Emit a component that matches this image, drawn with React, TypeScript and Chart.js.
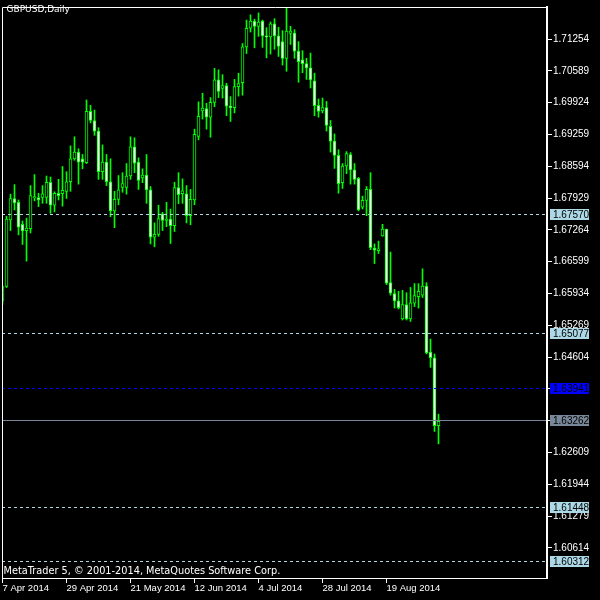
import React, { useEffect, useRef } from "react";
import { Chart, registerables } from "chart.js";

Chart.register(...registerables);

const symbolTitle = "GBPUSD,Daily";
const copyrightText = "MetaTrader 5, \u00a9 2001-2014, MetaQuotes Software Corp.";

const opens = [
  1.6579, 1.6608, 1.6747, 1.6792, 1.6784, 1.6738, 1.6725, 1.6729, 1.6793, 1.6794,
  1.6794, 1.6794, 1.6826, 1.6778, 1.6803, 1.6802, 1.6807, 1.6827, 1.6875, 1.6889,
  1.6875, 1.6867, 1.6974, 1.6955, 1.6933, 1.6848, 1.6868, 1.6827, 1.6766, 1.6790,
  1.6815, 1.6815, 1.6839, 1.6900, 1.6868, 1.6835, 1.6841, 1.6810, 1.6711, 1.6717,
  1.6760, 1.6746, 1.6749, 1.6735, 1.6815, 1.6802, 1.6802, 1.6756, 1.6789, 1.6922,
  1.6975, 1.6980, 1.6962, 1.6993, 1.7040, 1.7022, 1.7028, 1.6985, 1.6982, 1.7026,
  1.7034, 1.7109, 1.7148, 1.7163, 1.7152, 1.7163, 1.7132, 1.7130, 1.7157, 1.7132,
  1.7120, 1.7085, 1.7137, 1.7138, 1.7100, 1.7082, 1.7074, 1.7065, 1.7038, 1.6987,
  1.6975, 1.6982, 1.6943, 1.6912, 1.6882, 1.6825, 1.6860, 1.6884, 1.6852, 1.6834,
  1.6774, 1.6788, 1.6811, 1.6688, 1.6683, 1.6714, 1.6728, 1.6616, 1.6593, 1.6578,
  1.6540, 1.6570, 1.6540, 1.6573, 1.6587, 1.6590, 1.6609, 1.6471, 1.6459, 1.6317,
];
const highs = [
  1.6610, 1.6755, 1.6801, 1.6821, 1.6789, 1.6745, 1.6751, 1.6819, 1.6842, 1.6803,
  1.6819, 1.6839, 1.6837, 1.6806, 1.6832, 1.6859, 1.6848, 1.6902, 1.6921, 1.6896,
  1.6884, 1.6998, 1.6987, 1.6977, 1.6940, 1.6904, 1.6884, 1.6875, 1.6807, 1.6840,
  1.6846, 1.6865, 1.6921, 1.6919, 1.6877, 1.6854, 1.6884, 1.6817, 1.6741, 1.6778,
  1.6763, 1.6784, 1.6770, 1.6826, 1.6846, 1.6833, 1.6819, 1.6811, 1.6937, 1.6994,
  1.7012, 1.6991, 1.7003, 1.7064, 1.7061, 1.7051, 1.7033, 1.7005, 1.7041, 1.7054,
  1.7116, 1.7165, 1.7176, 1.7167, 1.7180, 1.7165, 1.7149, 1.7161, 1.7168, 1.7150,
  1.7143, 1.7190, 1.7152, 1.7145, 1.7120, 1.7101, 1.7085, 1.7096, 1.7054, 1.7000,
  1.7002, 1.6995, 1.6955, 1.6927, 1.6894, 1.6865, 1.6890, 1.6888, 1.6865, 1.6836,
  1.6797, 1.6817, 1.6846, 1.6697, 1.6703, 1.6738, 1.6728, 1.6680, 1.6602, 1.6598,
  1.6600, 1.6595, 1.6606, 1.6614, 1.6614, 1.6645, 1.6616, 1.6498, 1.6467, 1.6341,
];
const lows = [
  1.6571, 1.6606, 1.6725, 1.6768, 1.6716, 1.6696, 1.6661, 1.6720, 1.6787, 1.6775,
  1.6782, 1.6782, 1.6761, 1.6764, 1.6789, 1.6776, 1.6792, 1.6807, 1.6872, 1.6822,
  1.6854, 1.6865, 1.6950, 1.6924, 1.6832, 1.6832, 1.6819, 1.6754, 1.6731, 1.6779,
  1.6805, 1.6801, 1.6832, 1.6846, 1.6811, 1.6825, 1.6782, 1.6697, 1.6691, 1.6713,
  1.6725, 1.6733, 1.6698, 1.6723, 1.6781, 1.6782, 1.6741, 1.6737, 1.6779, 1.6915,
  1.6958, 1.6937, 1.6920, 1.6984, 1.7003, 1.7002, 1.6965, 1.6953, 1.6971, 1.7006,
  1.7008, 1.7095, 1.7140, 1.7107, 1.7131, 1.7108, 1.7086, 1.7094, 1.7104, 1.7089,
  1.7071, 1.7058, 1.7114, 1.7085, 1.7035, 1.7055, 1.7041, 1.7023, 1.6965, 1.6962,
  1.6971, 1.6933, 1.6889, 1.6855, 1.6803, 1.6813, 1.6844, 1.6822, 1.6822, 1.6766,
  1.6770, 1.6756, 1.6685, 1.6656, 1.6677, 1.6713, 1.6612, 1.6590, 1.6563, 1.6561,
  1.6538, 1.6538, 1.6535, 1.6566, 1.6563, 1.6585, 1.6467, 1.6439, 1.6305, 1.6279,
];
const closes = [
  1.6608, 1.6749, 1.6792, 1.6783, 1.6732, 1.6724, 1.6730, 1.6798, 1.6796, 1.6789,
  1.6802, 1.6826, 1.6778, 1.6803, 1.6798, 1.6809, 1.6827, 1.6875, 1.6889, 1.6868,
  1.6868, 1.6974, 1.6955, 1.6933, 1.6848, 1.6868, 1.6827, 1.6766, 1.6790, 1.6810,
  1.6823, 1.6839, 1.6900, 1.6866, 1.6830, 1.6841, 1.6810, 1.6711, 1.6717, 1.6750,
  1.6746, 1.6749, 1.6735, 1.6815, 1.6800, 1.6808, 1.6756, 1.6790, 1.6926, 1.6964,
  1.6981, 1.6962, 1.6993, 1.7040, 1.7016, 1.7028, 1.6985, 1.6982, 1.7026, 1.7032,
  1.7109, 1.7148, 1.7163, 1.7152, 1.7161, 1.7132, 1.7130, 1.7157, 1.7132, 1.7110,
  1.7085, 1.7142, 1.7142, 1.7100, 1.7078, 1.7074, 1.7065, 1.7040, 1.6986, 1.6974,
  1.6982, 1.6945, 1.6912, 1.6882, 1.6823, 1.6860, 1.6886, 1.6852, 1.6832, 1.6768,
  1.6788, 1.6811, 1.6689, 1.6684, 1.6687, 1.6728, 1.6615, 1.6594, 1.6578, 1.6564,
  1.6570, 1.6540, 1.6574, 1.6589, 1.6598, 1.6609, 1.6469, 1.6459, 1.6317, 1.63262,
];

const xTickIndex = [0, 16, 32, 48, 64, 80, 96];
const xTickLabels = [
  "7 Apr 2014", "29 Apr 2014", "21 May 2014", "12 Jun 2014",
  "4 Jul 2014", "28 Jul 2014", "19 Aug 2014",
];
const yTickValues = [
  1.71254, 1.70589, 1.69924, 1.69259, 1.68594, 1.67929, 1.67264, 1.66599, 1.65934,
  1.65269, 1.64604, 1.63939, 1.63274, 1.62609, 1.61944, 1.61279, 1.60614,
];

const levelPrices = [1.6757, 1.65077, 1.63941, 1.63262, 1.61448, 1.60312];
const levelLabels = ["1.67570", "1.65077", "1.63941", "1.63262", "1.61448", "1.60312"];

const LIGHT = "#add8e6";
const levelStyle = [
  { line: LIGHT, box: LIGHT, dash: [3, 3] },
  { line: LIGHT, box: LIGHT, dash: [3, 3] },
  { line: "#0000ff", box: "#0000ff", dash: [3, 3] },
  { line: "#778899", box: "#778899", dash: [] as number[] },
  { line: LIGHT, box: LIGHT, dash: [3, 3] },
  { line: LIGHT, box: LIGHT, dash: [3, 3] },
];

const FONT = '"Liberation Sans", Arial, sans-serif';
const TEXT_FONT = '"DejaVu Sans", Verdana, sans-serif';

const mtPlugin = {
  id: "mt5",
  beforeDraw(chart: any) {
    const ctx = chart.ctx;
    ctx.save();
    ctx.fillStyle = "#000000";
    ctx.fillRect(0, 0, chart.width, chart.height);
    ctx.restore();
  },
  afterDatasetsDraw(chart: any) {
    const ctx = chart.ctx;
    const a = chart.chartArea;
    const y = chart.scales.y;
    ctx.save();
    ctx.lineWidth = 1;
    levelPrices.forEach((p, k) => {
      const py = Math.floor(y.getPixelForValue(p) - 0.5) + 0.5;
      ctx.strokeStyle = levelStyle[k].line;
      ctx.setLineDash(levelStyle[k].dash);
      ctx.beginPath();
      ctx.moveTo(a.left, py);
      ctx.lineTo(a.right - 1, py);
      ctx.stroke();
    });
    ctx.setLineDash([]);
    // top and left frame
    ctx.strokeStyle = "#ffffff";
    ctx.beginPath();
    ctx.moveTo(a.left + 0.5, a.bottom);
    ctx.lineTo(a.left + 0.5, a.top + 0.5);
    ctx.lineTo(a.right + 1, a.top + 0.5);
    ctx.stroke();
    // texts
    ctx.fillStyle = "#ffffff";
    ctx.textAlign = "left";
    ctx.textBaseline = "top";
    ctx.font = "9px " + TEXT_FONT;
    ctx.fillText(symbolTitle, 6.5, 5);
    ctx.textBaseline = "alphabetic";
    ctx.font = "9.75px " + TEXT_FONT;
    ctx.fillText(copyrightText, 3.5, 574);
    // price labels on axis
    ctx.font = "10px " + FONT;
    levelPrices.forEach((p, k) => {
      const py = Math.floor(y.getPixelForValue(p) - 0.5) + 0.5;
      ctx.fillStyle = levelStyle[k].box;
      ctx.fillRect(550, py - 5.5, 39, 11);
      ctx.fillStyle = "#000000";
      ctx.textBaseline = "middle";
      ctx.fillText(levelLabels[k], 553, py + 0.5);
    });
    ctx.restore();
  },
};

export default function App() {
  const ref = useRef<HTMLCanvasElement>(null);

  useEffect(() => {
    const canvas = ref.current;
    if (!canvas) return;
    const idx = opens.map((_, i) => i);
    const bodyData = idx.map((i) => ({
      x: i,
      y: [Math.min(opens[i], closes[i]), Math.max(opens[i], closes[i])],
    }));
    const wickData = idx.map((i) => ({ x: i, y: [lows[i], highs[i]] }));
    const bodyFill = idx.map((i) => (closes[i] >= opens[i] ? "#000000" : "#ffffff"));

    const chart = new Chart(canvas, {
      type: "bar",
      data: {
        datasets: [
          {
            label: "body",
            data: bodyData as any,
            backgroundColor: bodyFill,
            borderColor: "#00ff00",
            borderWidth: 1,
            borderSkipped: false,
            barThickness: 3,
            grouped: false,
            order: 0,
            minBarLength: 1,
          } as any,
          {
            label: "wick",
            data: wickData as any,
            backgroundColor: "#00ff00",
            borderWidth: 0,
            barThickness: 1,
            grouped: false,
            order: 1,
          } as any,
        ],
      },
      options: {
        animation: false,
        responsive: false,
        maintainAspectRatio: false,
        devicePixelRatio: 1,
        events: [],
        layout: { padding: { left: 2, top: 2, right: 0, bottom: 0 } },
        plugins: {
          legend: { display: false },
          tooltip: { enabled: false },
          title: { display: false },
        },
        scales: {
          x: {
            type: "linear",
            position: "bottom",
            min: -0.125,
            max: 136.125,
            offset: false,
            grid: {
              display: true,
              drawOnChartArea: false,
              drawTicks: true,
              tickLength: 5,
              color: "#ffffff",
              offset: false,
            },
            border: { display: true, color: "#ffffff", width: 1 },
            ticks: {
              color: "#ffffff",
              font: { family: FONT, size: 9.5 },
              autoSkip: false,
              maxRotation: 0,
              minRotation: 0,
              align: "start",
              padding: 0,
              callback: (_v: any, i: number) => xTickLabels[i] ?? "",
            },
            afterBuildTicks: (s: any) => {
              s.ticks = xTickIndex.map((v) => ({ value: v }));
            },
            afterFit: (s: any) => {
              s.height = 22;
            },
          } as any,
          y: {
            type: "linear",
            position: "right",
            min: 1.5998595,
            max: 1.7192355,
            beginAtZero: false,
            grid: {
              display: true,
              drawOnChartArea: false,
              drawTicks: true,
              tickLength: 5,
              color: "#ffffff",
            },
            border: { display: true, color: "#ffffff", width: 2 },
            ticks: {
              color: "#ffffff",
              font: { family: FONT, size: 10 },
              autoSkip: false,
              padding: 1,
              callback: (v: any) => Number(v).toFixed(5),
            },
            afterBuildTicks: (s: any) => {
              s.ticks = yTickValues.map((v) => ({ value: v }));
            },
            afterFit: (s: any) => {
              s.width = 53;
            },
          } as any,
        },
      },
      plugins: [mtPlugin],
    });
    return () => chart.destroy();
  }, []);

  return (
    <div
      style={{
        position: "fixed",
        left: 0,
        top: 0,
        width: 600,
        height: 600,
        background: "#000000",
      }}
    >
      <canvas
        ref={ref}
        width={600}
        height={600}
        style={{ display: "block", width: 600, height: 600 }}
      />
    </div>
  );
}
